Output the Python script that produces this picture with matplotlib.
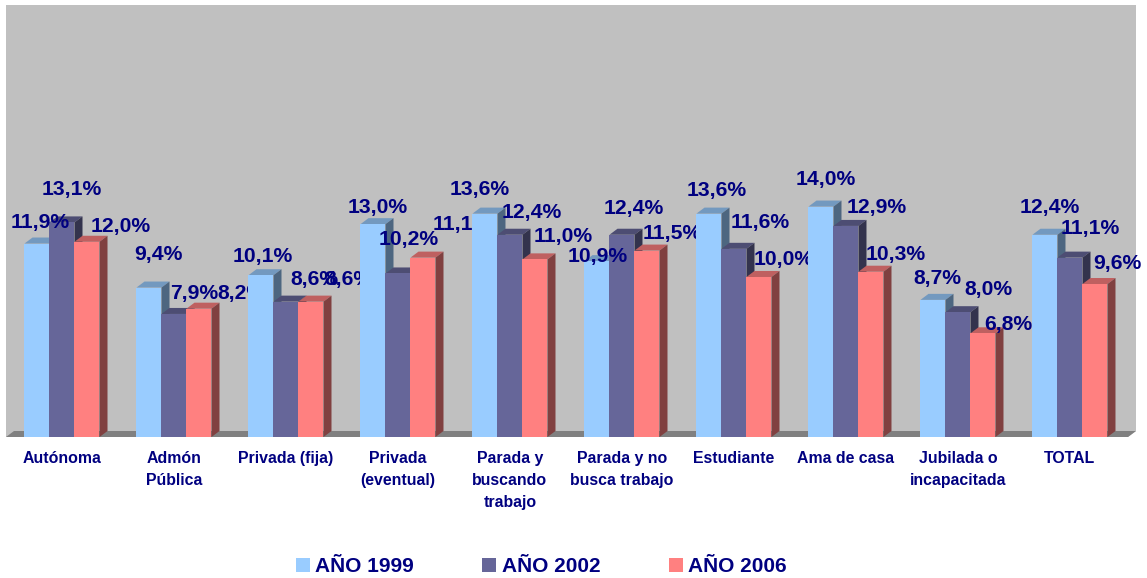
import matplotlib
matplotlib.use("Agg")
import matplotlib.pyplot as plt
from matplotlib.colors import to_rgb
from matplotlib.patches import Patch

plt.rcParams["font.family"] = ["Liberation Sans", "DejaVu Sans"]

categories = ["Autónoma", "Admón\nPública", "Privada (fija)", "Privada\n(eventual)",
              "Parada y\nbuscando\ntrabajo", "Parada y no\nbusca trabajo", "Estudiante",
              "Ama de casa", "Jubilada o\nincapacitada", "TOTAL"]
series_names = ["AÑO 1999", "AÑO 2002", "AÑO 2006"]
anio_1999 = [11.9, 9.4, 10.1, 13.0, 13.6, 10.9, 13.6, 14.0, 8.7, 12.4]
anio_2002 = [13.1, 7.9, 8.6, 10.2, 12.4, 12.4, 11.6, 12.9, 8.0, 11.1]
anio_2006 = [12.0, 8.2, 8.6, 11.1, 11.0, 11.5, 10.0, 10.3, 6.8, 9.6]
all_series = [anio_1999, anio_2002, anio_2006]

colors = ["#99CCFF", "#666699", "#FF8080"]
navy = "#000080"

# hand-placed data labels in the original, offsets in pixels from the bar top
label_dx = [[3.5, 9.5, 1.5, 4.5, -5.5, 0.5, 7.5, 4.5, 4.5, 4.5],
            [10, 20, 28, 11, 22, 12, 26, 31, 30, 20],
            [34, 42, 37, 39, 28, 25, 25, 25, 25, 22]]
label_dy = [[21, 33, 19, 17, 24, 5, 23, 27, 21, 27],
            [33, 20, 22, 34, 22, 26, 26, 18, 23, 29],
            [15, 15, 22, 33, 23, 17, 17, 17, 9, 21]]


def shade(color, k):
    return tuple(c * k for c in to_rgb(color))


W, H = 1147, 578
fig = plt.figure(figsize=(W / 100, H / 100), dpi=100)
ax = fig.add_axes([6 / W, 1 - 437 / H, 1122 / W, 432 / H])
ax.set_xlim(-0.5, 9.518)
ax.set_ylim(0.91, 25.45)
ax.set_facecolor("none")
for s in ax.spines.values():
    s.set_visible(False)

x0, x1 = ax.get_xlim()
y0, y1 = ax.get_ylim()
depth_x = 8 / 112
depth_y = 6 / 17.6
bar_w = 25 / 112

# wall and floor
ax.fill([x0, x1 + depth_x, x1 + depth_x, x1, x0], [y1, y1, y0 + depth_y, y0, y0],
        color="#C0C0C0", lw=0, clip_on=False, zorder=0)
ax.fill([x0, x0 + depth_x, x1 + depth_x, x1], [y0, y0 + depth_y, y0 + depth_y, y0],
        color="#808080", lw=0, clip_on=False, zorder=1)

for i in range(len(categories)):
    z = 2 + i
    for j, vals in enumerate(all_series):
        v = vals[i]
        left = i + (j - 1) * bar_w - bar_w / 2
        right = left + bar_w
        ax.fill([left, left + depth_x, right + depth_x, right],
                [v, v + depth_y, v + depth_y, v],
                color=shade(colors[j], 0.75), lw=0, zorder=z, clip_on=False)
        ax.fill([right, right + depth_x, right + depth_x, right],
                [y0, y0 + depth_y, v + depth_y, v],
                color=shade(colors[j], 0.5), lw=0, zorder=z, clip_on=False)
        ax.bar(left, v - y0, bar_w, bottom=y0, align="edge", color=colors[j], lw=0, zorder=z)
    for j, vals in enumerate(all_series):
        left = i + (j - 1) * bar_w
        ax.annotate(f"{vals[i]:.1f}%".replace(".", ","), xy=(left, vals[i]),
                    xytext=(label_dx[j][i], label_dy[j][i]), textcoords="offset pixels",
                    ha="center", va="center", fontsize=15.2, fontweight="bold",
                    color=navy, zorder=z + 0.5, annotation_clip=False)

ax.set_xticks(range(len(categories)))
ax.set_xticklabels(categories, fontsize=11.4, fontweight="bold", color=navy, linespacing=1.6)
ax.tick_params(axis="x", length=0, pad=10)
ax.set_yticks([])

handles = [Patch(color=c, lw=0) for c in colors]
fig.legend(handles, series_names, loc="center left", bbox_to_anchor=(277 / W, 1 - 567 / H),
           ncol=3, frameon=False, handlelength=0.67, handleheight=0.67, handletextpad=0.25,
           columnspacing=3.3, labelcolor=navy,
           prop={"size": 15, "weight": "bold"})

fig.savefig("out.png", dpi=100)
